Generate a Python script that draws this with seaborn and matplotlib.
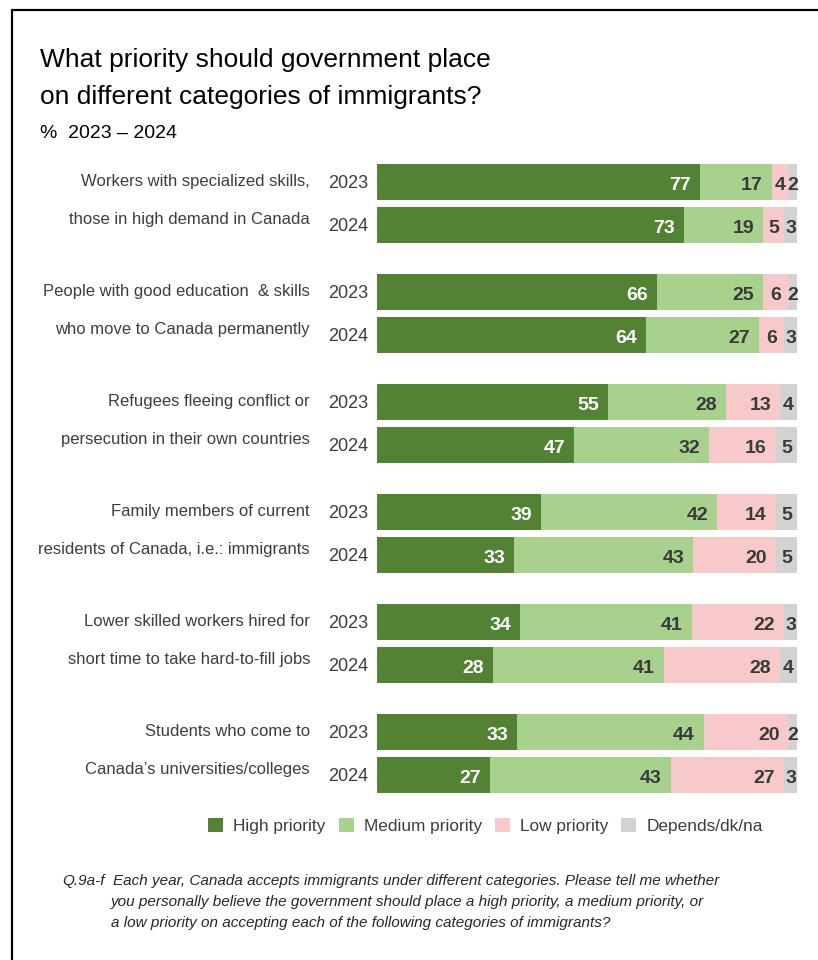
import numpy as np
import pandas as pd
import seaborn as sns
import matplotlib
matplotlib.use("Agg")
import matplotlib.pyplot as plt
from matplotlib import transforms
from matplotlib.patches import Patch
from matplotlib.lines import Line2D

# ---------------- data ----------------
categories = [
    "Workers with specialized skills,\nthose in high demand in Canada",
    "People with good education  & skills\nwho move to Canada permanently",
    "Refugees fleeing conflict or\npersecution in their own countries",
    "Family members of current\nresidents of Canada, i.e.: immigrants",
    "Lower skilled workers hired for\nshort time to take hard-to-fill jobs",
    "Students who come to\nCanada\u2019s universities/colleges",
]
years = ["2023", "2024"]
series = ["High priority", "Medium priority", "Low priority", "Depends/dk/na"]
high_2023 = [77, 66, 55, 39, 34, 33]
high_2024 = [73, 64, 47, 33, 28, 27]
med_2023 = [17, 25, 28, 42, 41, 44]
med_2024 = [19, 27, 32, 43, 41, 43]
low_2023 = [4, 6, 13, 14, 22, 20]
low_2024 = [5, 6, 16, 20, 28, 27]
dk_2023 = [2, 2, 4, 5, 3, 2]
dk_2024 = [3, 3, 5, 5, 4, 3]

colors = ["#548235", "#a9d18e", "#f7c9cb", "#d2d2d2"]
label_colors = ["white", "#3a3a3a", "#3a3a3a", "#3a3a3a"]

# ---------------- fonts ----------------
sns.set_theme(style="white")
plt.rcParams["font.family"] = ["Liberation Sans", "DejaVu Sans"]

# ---------------- long table (100% stacked) ----------------
group_step = 110 / 43.0
rows = []
vals = {
    "2023": [high_2023, med_2023, low_2023, dk_2023],
    "2024": [high_2024, med_2024, low_2024, dk_2024],
}
for g, cat in enumerate(categories):
    for j, yr in enumerate(years):
        v = [s[g] for s in vals[yr]]
        total = float(sum(v))
        cum = np.cumsum(v) / total * 100
        row = {"category": cat, "year": yr, "pos": g * group_step + j}
        for k, name in enumerate(series):
            row[name] = v[k]
            row["cum_" + name] = cum[k]
            row["start_" + name] = cum[k] - v[k] / total * 100
        rows.append(row)
df = pd.DataFrame(rows)

W, H = 818, 960
fig = plt.figure(figsize=(W / 100, H / 100), dpi=100)
ax_left, ax_right = 377, 797
ax_top, ax_bot = 160, 797
ax = fig.add_axes([ax_left / W, 1 - ax_bot / H, (ax_right - ax_left) / W, (ax_bot - ax_top) / H])

for k in range(len(series) - 1, -1, -1):
    sns.barplot(data=df, x="cum_" + series[k], y="pos", orient="y", native_scale=True,
                color=colors[k], saturation=1, width=36 / 43, linewidth=0, ax=ax, errorbar=None)

ax.set_xlim(0, 100)
ax.set_ylim((ax_bot - 182) / 43, (ax_top - 182) / 43)
ax.axis("off")

# value labels
for _, r in df.iterrows():
    for k, name in enumerate(series):
        v = r[name]
        end = r["cum_" + name]
        start = r["start_" + name]
        if v <= 6:
            ax.text((start + end) / 2, r["pos"] + 0.18, f"{v}", ha="center", va="baseline",
                    fontsize=14, fontweight="bold", color=label_colors[k])
        else:
            ax.annotate(f"{v}", xy=(end, r["pos"] + 0.18), xytext=(-6.5, 0),
                        textcoords="offset points", ha="right", va="baseline", fontsize=14,
                        fontweight="bold", color=label_colors[k])

# category and year labels
trans = transforms.blended_transform_factory(fig.transFigure, ax.transData)
for g, cat in enumerate(categories):
    l1, l2 = cat.split("\n")
    p0 = g * group_step
    ax.text(310 / W, p0 + 0.093, l1, transform=trans, ha="right", va="baseline",
            fontsize=12, color="#3d3d3d")
    ax.text(310 / W, p0 + 0.988, l2, transform=trans, ha="right", va="baseline",
            fontsize=12, color="#3d3d3d")
    for j, yr in enumerate(years):
        ax.text(348 / W, p0 + j + 0.151, yr, transform=trans, ha="center", va="baseline",
                fontsize=13, color="#3d3d3d")

# title
fig.text(40 / W, 1 - 67 / H, "What priority should government place", ha="left", va="baseline",
         fontsize=19, color="black")
fig.text(40 / W, 1 - 104 / H, "on different categories of immigrants?", ha="left", va="baseline",
         fontsize=19, color="black")
fig.text(40 / W, 1 - 138 / H, "%  2023 \u2013 2024", ha="left", va="baseline",
         fontsize=14, color="black")

# legend
handles = [Patch(facecolor=c, edgecolor="none") for c in colors]
fig.legend(handles, series, loc="center", bbox_to_anchor=(485.5 / W, 1 - 826 / H), ncol=4,
           frameon=False, fontsize=12.4, handlelength=0.87, handleheight=0.87,
           handletextpad=0.6, columnspacing=0.75, labelcolor="#3d3d3d",
           borderpad=0, borderaxespad=0)

# footnote
fig.text(62 / W, 1 - 881 / H, "Q.9a-f", ha="left", va="center", fontsize=11, style="italic")
foot = [
    "Each year, Canada accepts immigrants under different categories. Please tell me whether",
    "you personally believe the government should place a high priority, a medium priority, or",
    "a low priority on accepting each of the following categories of immigrants?",
]
for i, line in enumerate(foot):
    xx = 113 if i == 0 else 111
    fig.text(xx / W, 1 - (881 + 21 * i) / H, line, ha="left", va="center", fontsize=11,
             style="italic")

# frame
fig.add_artist(Line2D([12 / W, 1], [1 - 10 / H, 1 - 10 / H], transform=fig.transFigure,
                      color="black", lw=1.6))
fig.add_artist(Line2D([12 / W, 12 / W], [0, 1 - 10 / H], transform=fig.transFigure,
                      color="black", lw=1.6))

fig.savefig("out.png", dpi=100, facecolor="white")
